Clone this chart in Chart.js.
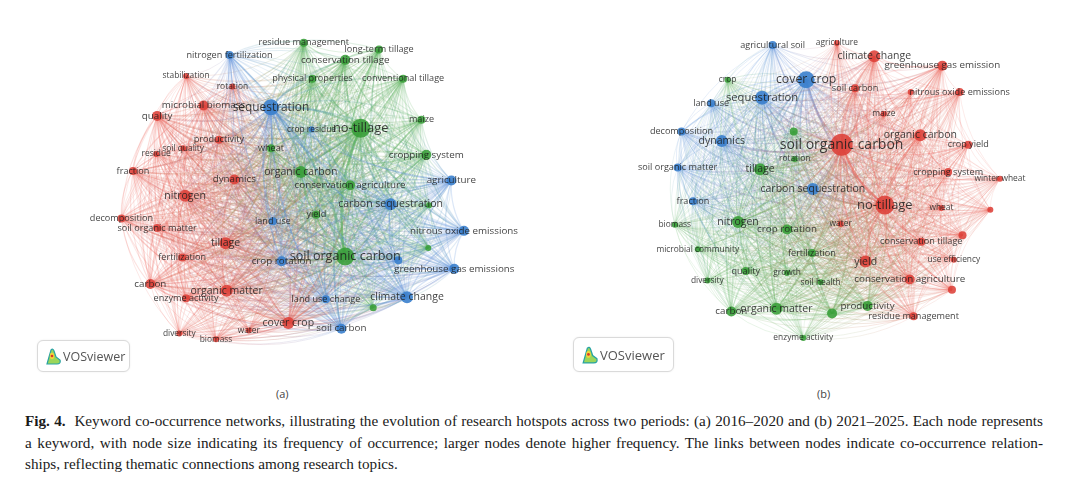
<!DOCTYPE html>
<html>
<head>
<meta charset="utf-8">
<script src="https://cdn.jsdelivr.net/npm/chart.js@4.4.1/dist/chart.umd.min.js"></script>
<style>
html, body { margin: 0; padding: 0; background: #fff; }
body { width: 1080px; height: 483px; position: relative; overflow: hidden; }
canvas { position: absolute; top: 0; }
#netA { left: 0; }
#netB { left: 540px; }
.badge { position: absolute; border: 1px solid #dadada; border-radius: 6px; background: #fff;
  box-shadow: 0 0 2px rgba(0,0,0,0.08); font-family: 'Open Sans', sans-serif; color: #555;
  display: flex; align-items: center; box-sizing: border-box; }
.badge svg { margin-left: 7px; margin-right: 2px; }
.panel { position: absolute; top: 386px; font-family: 'Open Sans', sans-serif; font-size: 11px; color: #444; }
.caption { position: absolute; left: 25px; top: 410px; width: 1018px; font-family: 'Liberation Serif', serif;
  font-size: 15.2px; color: #1a1a1a; line-height: 21.5px; }
.caption div { white-space: nowrap; text-align: justify; text-align-last: justify; }
.caption div.last { text-align-last: left; }
</style>
</head>
<body>
<canvas id="netA" width="540" height="380"></canvas>
<canvas id="netB" width="540" height="380"></canvas>

<div class="badge" style="left:37px;top:340px;width:93px;height:32px;font-size:12.5px;">
  <svg width="16" height="19" viewBox="0 0 16 19"><path d="M2 17 L6 3 Q8 1 9 4 L11 10 L15 13 Q16 17 12 17 Z" fill="#9bd65a" stroke="#27a3a3" stroke-width="1.2"/><ellipse cx="7" cy="9" rx="2.2" ry="3.2" fill="#f2d43a"/><circle cx="7" cy="9" r="1.3" fill="#d83a2a"/></svg>VOSviewer
</div>
<div class="badge" style="left:573px;top:337px;width:101px;height:35px;font-size:13px;">
  <svg width="17" height="20" viewBox="0 0 16 19"><path d="M2 17 L6 3 Q8 1 9 4 L11 10 L15 13 Q16 17 12 17 Z" fill="#9bd65a" stroke="#27a3a3" stroke-width="1.2"/><ellipse cx="7" cy="9" rx="2.2" ry="3.2" fill="#f2d43a"/><circle cx="7" cy="9" r="1.3" fill="#d83a2a"/></svg>VOSviewer
</div>
<div class="panel" style="left:276px;">(a)</div>
<div class="panel" style="left:817px;">(b)</div>

<div class="caption">
  <div><b>Fig. 4.</b>&nbsp; Keyword co-occurrence networks, illustrating the evolution of research hotspots across two periods: (a) 2016–2020 and (b) 2021–2025. Each node represents</div>
  <div>a keyword, with node size indicating its frequency of occurrence; larger nodes denote higher frequency. The links between nodes indicate co-occurrence relation-</div>
  <div class="last">ships, reflecting thematic connections among research topics.</div>
</div>

<script>
// clusters: 0 = red, 1 = green, 2 = blue

// (a) 2016-2020 : 21 red, 16 green, 13 blue
const aNames = [
  'stabilization', 'rotation', 'microbial biomass', 'quality', 'productivity', 'soil quality',
  'residue', 'fraction', 'dynamics', 'nitrogen', 'decomposition', 'soil organic matter',
  'tillage', 'fertilization', 'carbon', 'organic matter', 'enzyme activity', 'diversity',
  'biomass', 'water', 'cover crop',
  'residue management', 'long-term tillage', 'conservation tillage', 'physical properties',
  'conventional tillage', 'no-tillage', 'maize', 'wheat', 'cropping system', 'organic carbon',
  'conservation agriculture', 'yield', 'soil organic carbon', '', '', '',
  'nitrogen fertilization', 'sequestration', 'crop residue', 'agriculture', 'carbon sequestration',
  'land use', 'nitrous oxide emissions', '', 'crop rotation', 'greenhouse gas emissions',
  'land use change', 'climate change', 'soil carbon'
];
const aX = [183, 231, 201, 153, 217, 180, 152, 128, 233, 182, 116, 153, 224, 179, 146, 225, 183, 176, 214, 248, 289,
  305, 383, 348, 314, 408, 364, 427, 271, 432, 302, 353, 318, 348, 434, 377, 435,
  228, 271, 313, 458, 395, 273, 471, 403, 282, 461, 328, 412, 344];
const aY = [70, 81, 101, 112, 137, 146, 152, 170, 179, 196, 220, 230, 246, 261, 289, 296, 304, 341, 347, 338, 330,
  35, 42, 53, 73, 73, 125, 116, 146, 153, 171, 185, 216, 260, 251, 314, 206,
  48, 103, 126, 180, 205, 223, 233, 264, 265, 273, 305, 303, 336];
const aSize = [3, 3, 5, 5, 4, 3, 3, 4, 5, 6, 4, 4, 6, 4, 5, 6, 4, 3, 3, 3, 6,
  4, 4, 5, 4, 4, 9.5, 4, 4, 5, 6, 5, 4, 9, 3, 3.5, 3,
  4, 8, 3, 5, 6, 4, 5, 4, 5, 5, 4, 6, 5];
const aGroup = [
  0, 0, 0, 0, 0, 0, 0, 0, 0, 0,
  0, 0, 0, 0, 0, 0, 0, 0, 0, 0,
  0,
  1, 1, 1, 1, 1, 1, 1, 1,
  1, 1, 1, 1, 1, 1, 1, 1,
  2, 2, 2, 2, 2, 2, 2,
  2, 2, 2, 2, 2, 2
];

// (b) 2021-2025 : 9 blue, 18 green, 23 red
const bNames = [
  'agricultural soil', 'cover crop', 'sequestration', 'land use', 'decomposition', 'dynamics',
  'soil organic matter', 'fraction', 'carbon sequestration',
  'crop', '', 'tillage', 'rotation', 'biomass', 'nitrogen', 'crop rotation', 'microbial community',
  'fertilization', 'quality', 'growth', 'diversity', 'soil health', 'carbon', 'organic matter', '',
  'productivity', 'enzyme activity',
  'agriculture', 'climate change', 'greenhouse gas emission', 'soil carbon', '', 'nitrous oxide emissions',
  'maize', 'soil organic carbon', 'organic carbon', 'crop yield', 'cropping system', 'winter wheat',
  'no-tillage', 'wheat', '', 'water', '', 'conservation tillage', 'use efficiency', 'yield',
  'conservation agriculture', '', 'residue management'
];
const bX = [771, 806, 760, 707, 676, 718, 672, 688, 813,
  724, 793, 758, 794, 669, 735, 786, 693, 812, 743, 786, 703, 821, 728, 775, 833, 870, 803,
  838, 877, 948, 857, 915, 966, 887, 843, 925, 975, 954, 1008, 888, 947, 998, 842, 969, 926, 960, 868, 914, 958, 918];
const bY = [36, 73, 92, 98, 128, 138, 166, 202, 189,
  73, 128, 168, 157, 227, 224, 232, 253, 257, 276, 278, 286, 288, 319, 316, 321, 313, 347,
  34, 48, 58, 82, 86, 86, 109, 142, 132, 142, 171, 178, 206, 209, 211, 226, 238, 245, 264, 266, 285, 296, 324];
const bSize = [4, 8.5, 7, 4, 4, 6, 4, 4, 6,
  3, 4, 6, 3, 3, 6, 5, 3, 4, 4, 3, 3, 3, 5, 6, 5, 5, 3,
  3, 6, 5, 4, 3, 4, 3, 11, 6, 4, 4, 3, 9.5, 3, 3, 3, 4, 4, 3, 6, 5, 4, 4];
const bGroup = [
  2, 2, 2, 2, 2, 2, 2, 2, 2,
  1, 1, 1, 1, 1, 1, 1, 1, 1,
  1, 1, 1, 1, 1, 1, 1, 1, 1,
  0, 0, 0, 0, 0, 0, 0, 0, 0, 0,
  0, 0, 0, 0, 0, 0, 0, 0, 0, 0,
  0, 0, 0
];

const NODE_FILL = ['rgba(221,64,56,0.88)', 'rgba(56,158,56,0.88)', 'rgba(58,128,205,0.9)'];
const LINK_RGB = ['236,96,86', '86,176,86', '88,142,218'];

function linkPlugin(sizes, groups) {
    return {
        id: 'links',
        beforeDatasetsDraw(chart) {
            const ctx = chart.ctx;
            const pts = chart.getDatasetMeta(0).data;
            const maxS = Math.max(...sizes);
            ctx.save();
            for (let i = 0; i < pts.length; i++) {
                for (let j = i + 1; j < pts.length; j++) {
                    const a = pts[i], b = pts[j];
                    const dx = b.x - a.x, dy = b.y - a.y;
                    const len = Math.hypot(dx, dy);
                    if (len < 1) continue;
                    const w = (sizes[i] * sizes[j]) / (maxS * maxS);
                    const alpha = 0.1 + 0.4 * w;
                    // bend every link a little, like VOSviewer's curved lines
                    const cx = (a.x + b.x) / 2 - dy * 0.16;
                    const cy = (a.y + b.y) / 2 + dx * 0.16;
                    const grad = ctx.createLinearGradient(a.x, a.y, b.x, b.y);
                    grad.addColorStop(0, 'rgba(' + LINK_RGB[groups[i]] + ',' + alpha + ')');
                    grad.addColorStop(1, 'rgba(' + LINK_RGB[groups[j]] + ',' + alpha + ')');
                    ctx.strokeStyle = grad;
                    ctx.lineWidth = 0.7 + 1.8 * w;
                    ctx.beginPath();
                    ctx.moveTo(a.x, a.y);
                    ctx.quadraticCurveTo(cx, cy, b.x, b.y);
                    ctx.stroke();
                }
            }
            ctx.restore();
        }
    };
}

function labelPlugin(names, sizes) {
    return {
        id: 'labels',
        afterDatasetsDraw(chart) {
            const ctx = chart.ctx;
            const pts = chart.getDatasetMeta(0).data;
            const order = names.map((n, i) => i).sort((p, q) => sizes[p] - sizes[q]);
            ctx.save();
            ctx.textAlign = 'center';
            ctx.textBaseline = 'middle';
            ctx.fillStyle = 'rgba(28,28,28,0.85)';
            for (const i of order) {
                if (!names[i]) continue;
                const fs = 6.3 + sizes[i] * 0.7;
                ctx.font = fs.toFixed(1) + 'px "Open Sans", sans-serif';
                ctx.fillText(names[i], pts[i].x, pts[i].y);
            }
            ctx.restore();
        }
    };
}

function buildNetwork(canvasId, names, xs, ys, sizes, groups, xMin, xMax) {
    return new Chart(document.getElementById(canvasId), {
        type: 'bubble',
        data: {
            datasets: [{
                data: names.map((n, i) => ({ x: xs[i], y: ys[i], r: sizes[i] })),
                backgroundColor: groups.map(g => NODE_FILL[g]),
                borderWidth: 0,
                hoverRadius: 0
            }]
        },
        options: {
            responsive: false,
            animation: false,
            events: [],
            layout: { padding: 0 },
            plugins: { legend: { display: false }, tooltip: { enabled: false } },
            scales: {
                x: { type: 'linear', min: xMin, max: xMax, display: false },
                y: { type: 'linear', min: 0, max: 380, reverse: true, display: false }
            }
        },
        plugins: [linkPlugin(sizes, groups), labelPlugin(names, sizes)]
    });
}

buildNetwork('netA', aNames, aX, aY, aSize, aGroup, 0, 540);
buildNetwork('netB', bNames, bX, bY, bSize, bGroup, 540, 1080);
</script>
</body>
</html>
